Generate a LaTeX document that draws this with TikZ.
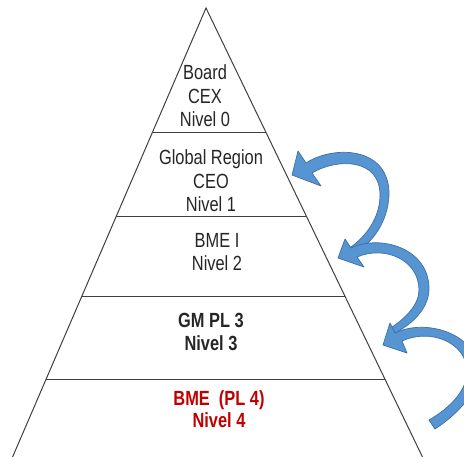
\documentclass[tikz,border=0pt]{standalone}
\usepackage{fontspec}
\newfontfamily\pyrfont[FakeStretch=0.8]{Liberation Sans}
\usetikzlibrary{calc}
\definecolor{arrowblue}{RGB}{86,148,210}
\definecolor{arrowedge}{RGB}{62,112,165}
\definecolor{lvlred}{RGB}{192,0,0}
\tikzset{
  lvltext/.style={align=center,inner sep=0pt,text=black!85,
    font=\pyrfont\fontsize{20.5}{23.5}\selectfont},
  tierline/.style={draw=black!75,line width=1pt},
  barrow/.style={fill=arrowblue,draw=arrowedge,line width=0.7pt,line join=round}
}
\begin{document}
\begin{tikzpicture}[x=1pt,y=-1pt]
  \clip (0,0) rectangle (464,456);
  \fill[white] (0,0) rectangle (464,456);
  \coordinate (apex) at (206,8);
  \coordinate (bl) at (13,456);
  \coordinate (br) at (422,456);
  \draw[tierline] ($(apex)!1.02!(bl)$) -- (apex) -- ($(apex)!1.02!(br)$);
  \foreach \y in {133,216,296,379} {
    \draw[tierline] ($(apex)!{(\y-8)/448}!(bl)$) -- ($(apex)!{(\y-8)/448}!(br)$);
  }
  \node[lvltext] (lvl0) at (205,96) {Board\\CEX\\Nivel 0};
  \node[lvltext] (lvl1) at (211,181) {Global Region\\CEO\\Nivel 1};
  \node[lvltext] (lvl2) at (217,252) {BME I\\Nivel 2};
  \node[lvltext,font=\pyrfont\bfseries\fontsize{20.5}{22.5}\selectfont] (lvl3) at (211,332) {GM PL 3\\Nivel 3};
  \node[lvltext,text=lvlred,font=\pyrfont\bfseries\fontsize{20.5}{22.5}\selectfont] (lvl4) at (219,409) {BME\ \ (PL 4)\\Nivel 4};
  \coordinate (tip1) at (292,175);
  \coordinate (tip2) at (338,258);
  \coordinate (tip3) at (383,345);
  \filldraw[barrow] (306,163) .. controls (333,145) and (390,146) .. (389,195)
    .. controls (388,222) and (372,243) .. (356,252) -- (351,247)
    .. controls (366,236) and (380,218) .. (380,195)
    .. controls (380,158) and (337,158) .. (312,173)
    -- (321,186) -- (tip1) -- (298,151) -- cycle;
  \filldraw[barrow] (351,248) .. controls (380,234) and (430,248) .. (429,290)
    .. controls (428,310) and (411,325) .. (393,334) -- (389,329)
    .. controls (405,319) and (419,305) .. (419,290)
    .. controls (419,260) and (385,245) .. (357,257)
    -- (364,267) -- (tip2) -- (345,239) -- cycle;
  \filldraw[barrow] (395,333) .. controls (425,318) and (478,333) .. (478,372)
    .. controls (478,390) and (461,412) .. (435,429) -- (429,420)
    .. controls (450,408) and (467,390) .. (467,372)
    .. controls (467,342) and (430,328) .. (402,341)
    -- (407,353) -- (tip3) -- (390,323) -- cycle;
\end{tikzpicture}
\end{document}
